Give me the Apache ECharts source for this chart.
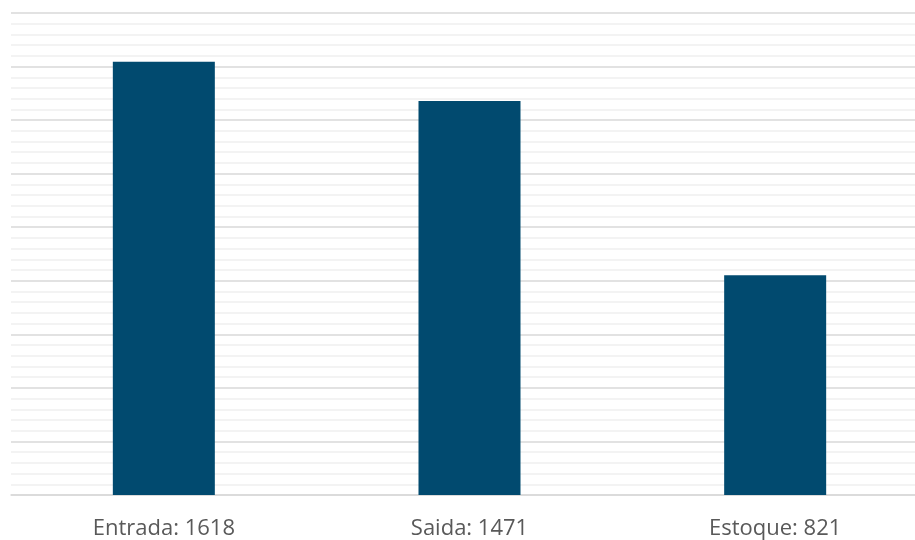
<!DOCTYPE html>
<html>
<head>
<meta charset="utf-8">
<script src="https://cdn.jsdelivr.net/npm/echarts@6/dist/echarts.min.js"></script>
<style>
  html, body { margin: 0; padding: 0; background: #ffffff; }
  #chart { width: 915px; height: 540px; }
</style>
</head>
<body>
<div id="chart"></div>
<script>
// Movement summary: entries, exits and remaining stock
const categories = ['Entrada', 'Saida', 'Estoque'];
const values = [1618, 1471, 821];

const chart = echarts.init(document.getElementById('chart'), null, { renderer: 'canvas' });

chart.setOption({
  animation: false,
  grid: { left: 11, top: 13, right: -13, bottom: 45, containLabel: false, outerBoundsMode: 'none' },
  xAxis: {
    type: 'category',
    data: categories,
    axisLine: { show: true, lineStyle: { color: '#d9d9d9', width: 1.5 } },
    axisTick: { show: false },
    axisLabel: {
      margin: 23,
      color: '#595959',
      fontSize: 22,
      fontFamily: 'Open Sans, Liberation Sans, sans-serif',
      formatter: (name, idx) => name + ': ' + values[idx]
    }
  },
  yAxis: {
    type: 'value',
    min: 0,
    max: 1800,
    interval: 200,
    axisLabel: { show: false },
    axisLine: { show: false },
    axisTick: { show: false },
    splitLine: { show: true, lineStyle: { color: '#d9d9d9', width: 1.5 } },
    minorTick: { show: false, splitNumber: 5 },
    minorSplitLine: { show: true, lineStyle: { color: '#f0f0f0', width: 1.5 } }
  },
  series: [{
    type: 'bar',
    data: values,
    barWidth: 102,
    itemStyle: { color: '#014a6f' }
  }]
});
</script>
</body>
</html>
